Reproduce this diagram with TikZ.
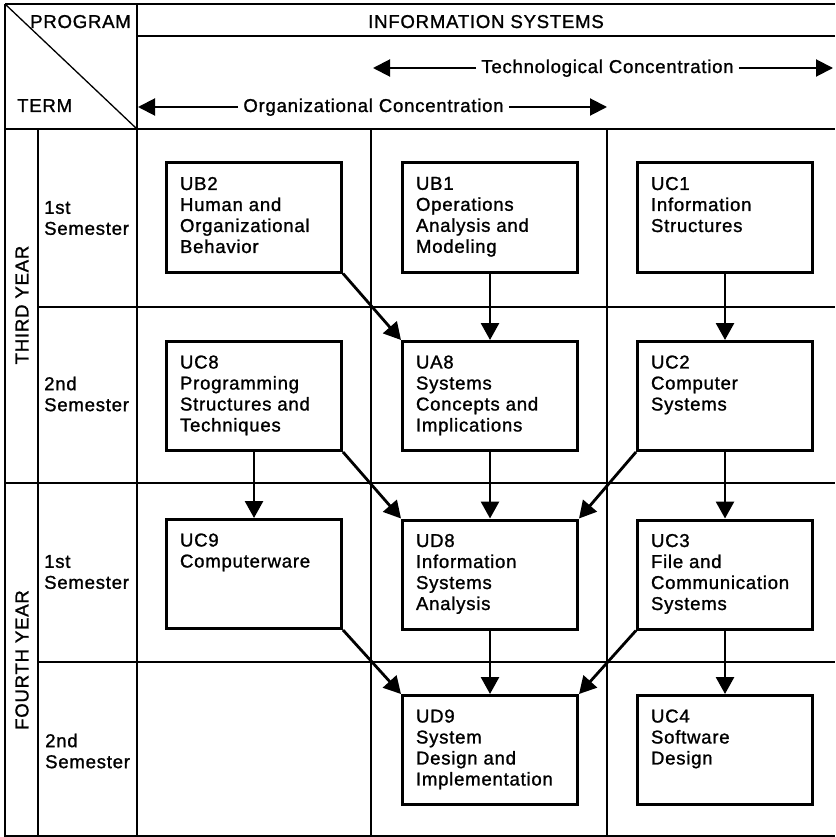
\documentclass[tikz,border=0pt]{standalone}
\usepackage{fontspec}
\setmainfont{Liberation Sans}[LetterSpace=4,FakeBold=1.2]
\usetikzlibrary{arrows.meta}
\newcommand\coursetext[1]{\parbox[c][109pt][t]{148pt}{\vspace*{14pt}#1}}
\begin{document}
\begin{tikzpicture}[x=1pt,y=-1pt,
 every node/.style={font=\fontsize{18.6}{21}\selectfont},
 gridline/.style={line width=1.3pt},
 frameline/.style={line width=2pt},
 crsbox/.style={draw, line width=3pt, inner xsep=13.5pt, inner ysep=0pt, minimum width=175pt, minimum height=109pt},
 link/.style={line width=2.8pt, -{Triangle[length=17pt,width=18pt]}},
 hdrarrow/.style={line width=2pt, -{Triangle[length=17pt,width=17pt]}},
 semlbl/.style={inner sep=0pt, align=left, anchor=west}
]
\fill[white] (0,0) rectangle (835,837);
\useasboundingbox (0,0) rectangle (835,837);

% grid
\draw[frameline] (5,4) -- (835,4);
\draw[frameline] (5,4) -- (5,836) -- (835,836);
\draw[frameline] (5,129) -- (835,129);
\draw[gridline] (137,4) -- (137,836);
\draw[gridline] (137,36) -- (835,36);
\draw[gridline] (5,4) -- (137,129);
\draw[gridline] (38,129) -- (38,836);
\draw[gridline] (371,129) -- (371,836);
\draw[gridline] (607,129) -- (607,836);
\draw[gridline] (38,307) -- (835,307);
\draw[gridline] (5,483) -- (835,483);
\draw[gridline] (38,662) -- (835,662);

% header
\node[anchor=base east, inner sep=0pt] (prog) at (131,28) {PROGRAM};
\node[anchor=base west, inner sep=0pt] (term) at (17,112) {TERM};
\node[anchor=base, inner sep=0pt] (infosys) at (486,28) {INFORMATION SYSTEMS};
\node[anchor=base, inner xsep=5pt] (tech) at (607.5,73) {Technological Concentration};
\coordinate (techL) at (373,68);
\coordinate (techR) at (833,68);
\draw[hdrarrow] (tech.west |- techL) -- (techL);
\draw[hdrarrow] (tech.east |- techR) -- (techR);
\node[anchor=base, inner xsep=5pt] (org) at (373.5,112) {Organizational Concentration};
\coordinate (orgL) at (138,107);
\coordinate (orgR) at (607,107);
\draw[hdrarrow] (org.west |- orgL) -- (orgL);
\draw[hdrarrow] (org.east |- orgR) -- (orgR);

% year and term labels
\node[rotate=90, inner sep=0pt] (y3) at (22,305) {THIRD YEAR};
\node[rotate=90, inner sep=0pt] (y4) at (22,660) {FOURTH YEAR};
\node[semlbl] (s31) at (44,218) {1st\\Semester};
\node[semlbl] (s32) at (44,394) {2nd\\Semester};
\node[semlbl] (s41) at (44,572) {1st\\Semester};
\node[semlbl] (s42) at (45,751) {2nd\\Semester};

% courses
\node[crsbox] (ub2) at (254,217.5) {\coursetext{UB2\\Human and\\Organizational\\Behavior}};
\node[crsbox] (ub1) at (490,217.5) {\coursetext{UB1\\Operations\\Analysis and\\Modeling}};
\node[crsbox] (uc1) at (725,217.5) {\coursetext{UC1\\Information\\Structures}};
\node[crsbox] (uc8) at (254,396) {\coursetext{UC8\\Programming\\Structures and\\Techniques}};
\node[crsbox] (ua8) at (490,396) {\coursetext{UA8\\Systems\\Concepts and\\Implications}};
\node[crsbox] (uc2) at (725,396) {\coursetext{UC2\\Computer\\Systems}};
\node[crsbox] (uc9) at (254,574) {\coursetext{UC9\\Computerware}};
\node[crsbox] (ud8) at (490,574.5) {\coursetext{UD8\\Information\\Systems\\Analysis}};
\node[crsbox] (uc3) at (725,574.5) {\coursetext{UC3\\File and\\Communication\\Systems}};
\node[crsbox] (ud9) at (490,750) {\coursetext{UD9\\System\\Design and\\Implementation}};
\node[crsbox] (uc4) at (725,750) {\coursetext{UC4\\Software\\Design}};

% prerequisites
\draw[link] (ub2.south east) -- (ua8.north west);
\draw[link] (ub1.south) -- (ua8.north);
\draw[link] (uc1.south) -- (uc2.north);
\draw[link] (uc8.south) -- (uc9.north);
\draw[link] (uc8.south east) -- (ud8.north west);
\draw[link] (ua8.south) -- (ud8.north);
\draw[link] (uc2.south west) -- (ud8.north east);
\draw[link] (uc2.south) -- (uc3.north);
\draw[link] (uc9.south east) -- (ud9.north west);
\draw[link] (ud8.south) -- (ud9.north);
\draw[link] (uc3.south west) -- (ud9.north east);
\draw[link] (uc3.south) -- (uc4.north);
\end{tikzpicture}
\end{document}
